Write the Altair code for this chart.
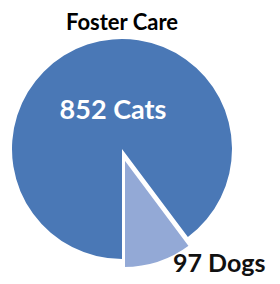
import altair as alt
import pandas as pd
import math

animals = ["Cats", "Dogs"]
counts = [852, 97]
title_text = "Foster Care"

df = pd.DataFrame({"animal": animals, "count": counts, "order": list(range(len(animals)))})
df["label"] = [f"{c} {a}" for a, c in zip(animals, counts)]

CX, CY, R = 114, 141, 110
cat_color = "#4A78B6"
dog_color = "#93A9D6"

base = alt.Chart(df)
theta = alt.Theta("count:Q", stack=True, scale=alt.Scale(range=[math.pi, 3 * math.pi]))
color = alt.Color("animal:N", scale=alt.Scale(domain=animals, range=[cat_color, dog_color]), legend=None)

cats = base.mark_arc(radius=R).encode(
    theta=theta,
    order=alt.Order("order:Q"),
    color=color,
    x=alt.value(CX), y=alt.value(CY),
    opacity=alt.condition(alt.datum.animal == "Cats", alt.value(1), alt.value(0)),
)

dogs = base.mark_arc(radius=R, xOffset=2, yOffset=9, stroke="white", strokeWidth=2).encode(
    theta=theta,
    order=alt.Order("order:Q"),
    color=color,
    x=alt.value(CX), y=alt.value(CY),
    opacity=alt.condition(alt.datum.animal == "Dogs", alt.value(1), alt.value(0)),
    strokeOpacity=alt.condition(alt.datum.animal == "Dogs", alt.value(1), alt.value(0)),
)

cat_label = base.transform_filter(alt.datum.animal == "Cats").mark_text(
    font="Lato", fontWeight="bold", fontSize=27, color="white", align="center", baseline="middle"
).encode(text="label:N", x=alt.value(105), y=alt.value(103))

dog_label = base.transform_filter(alt.datum.animal == "Dogs").mark_text(
    font="Lato", fontWeight="bold", fontSize=25, color="#111111", align="left", baseline="middle"
).encode(text="label:N", x=alt.value(165), y=alt.value(256))

title = alt.Chart(pd.DataFrame({"t": [title_text]})).mark_text(
    font="Lato", fontWeight="bold", fontSize=22, color="black", align="center", baseline="middle"
).encode(text="t:N", x=alt.value(114), y=alt.value(15))

chart = alt.layer(cats, dogs, cat_label, dog_label, title).properties(
    width=264, height=268,
    autosize=alt.AutoSizeParams(type="none"),
    padding=0,
).configure_view(stroke=None)

chart.save("out.html", embed_options={"renderer": "svg", "actions": False})
